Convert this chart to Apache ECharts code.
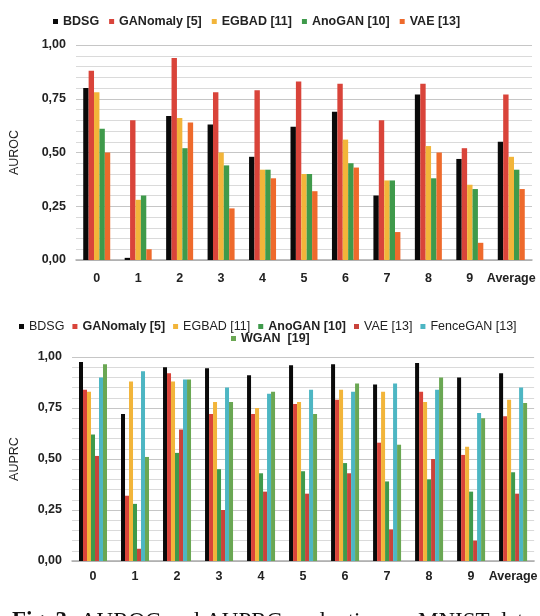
<!DOCTYPE html>
<html>
<head>
<meta charset="utf-8">
<script src="https://cdn.jsdelivr.net/npm/echarts@6/dist/echarts.min.js"></script>
<style>
html,body{margin:0;padding:0;background:#fff;}
#c{width:540px;height:616px;}
</style>
</head>
<body>
<div id="c"></div>
<script>
var categories = ['0','1','2','3','4','5','6','7','8','9','Average'];
var yTicks = ['0,00','0,25','0,50','0,75','1,00'];

// AUROC (top chart)
var rocBDSG     = [0.80, 0.01, 0.67, 0.63, 0.48, 0.62, 0.69, 0.30, 0.77, 0.47, 0.55];
var rocGANomaly = [0.88, 0.65, 0.94, 0.78, 0.79, 0.83, 0.82, 0.65, 0.82, 0.52, 0.77];
var rocEGBAD    = [0.78, 0.28, 0.66, 0.50, 0.42, 0.40, 0.56, 0.37, 0.53, 0.35, 0.48];
var rocAnoGAN   = [0.61, 0.30, 0.52, 0.44, 0.42, 0.40, 0.45, 0.37, 0.38, 0.33, 0.42];
var rocVAE      = [0.50, 0.05, 0.64, 0.24, 0.38, 0.32, 0.43, 0.13, 0.50, 0.08, 0.33];

// AUPRC (bottom chart)
var prcBDSG     = [0.975, 0.72, 0.95, 0.945, 0.91, 0.96, 0.965, 0.865, 0.97, 0.90, 0.92];
var prcGANomaly = [0.84, 0.32, 0.92, 0.72, 0.72, 0.77, 0.79, 0.58, 0.83, 0.52, 0.71];
var prcEGBAD    = [0.83, 0.88, 0.88, 0.78, 0.75, 0.78, 0.84, 0.83, 0.78, 0.56, 0.79];
var prcAnoGAN   = [0.62, 0.28, 0.53, 0.45, 0.43, 0.44, 0.48, 0.39, 0.40, 0.34, 0.435];
var prcVAE      = [0.515, 0.06, 0.645, 0.25, 0.34, 0.33, 0.43, 0.155, 0.50, 0.10, 0.33];
var prcFenceGAN = [0.90, 0.93, 0.89, 0.85, 0.82, 0.84, 0.83, 0.87, 0.84, 0.725, 0.85];
var prcWGAN     = [0.965, 0.51, 0.89, 0.78, 0.83, 0.72, 0.87, 0.57, 0.90, 0.70, 0.775];

var C = {
  black:'#0a0a0a', red:'#d9443a', yellow:'#f2b53a', green:'#3f9a4b',
  orange:'#ee6a2c', red2:'#c9433b', cyan:'#4db6c3', green2:'#6aa753'
};

var chart = echarts.init(document.getElementById('c'), null, {renderer:'canvas'});
var font = 'Liberation Sans, Arial, sans-serif';

function fmt(v){ return yTicks[Math.round(v/0.25)] || ''; }

function yAx(grid, name, gap){
  return {
    type:'value', gridIndex:grid, min:0, max:1, interval:0.25,
    name:name, nameLocation:'middle', nameRotate:90, nameGap:gap,
    nameTextStyle:{fontFamily:font, fontSize:12.5, color:'#222'},
    axisLine:{show:false}, axisTick:{show:false},
    axisLabel:{formatter:fmt, fontFamily:font, fontSize:12.5, fontWeight:'bold', color:'#222', margin:10},
    splitLine:{lineStyle:{color:'#c6c6c6', width:1}},
    minorTick:{show:false, splitNumber:5},
    minorSplitLine:{show:true, lineStyle:{color:'#dadada', width:1}}
  };
}
function xAx(grid, margin){
  return {
    type:'category', gridIndex:grid, data:categories,
    axisLine:{lineStyle:{color:'#aaaaaa', width:1.5}},
    axisTick:{show:false},
    axisLabel:{fontFamily:font, fontSize:12.5, fontWeight:'bold', color:'#222', margin:margin, interval:0}
  };
}
function bar(name, data, color, axis, w){
  return {name:name, type:'bar', xAxisIndex:axis, yAxisIndex:axis, data:data,
    barWidth:w, barGap:'0%', itemStyle:{color:color}, silent:true, animation:false};
}

var legText = {fontFamily:font, fontSize:12.5, color:'#222'};

chart.setOption({
  animation:false,
  backgroundColor:'#fff',
  grid:[
    {left:68, right:8, top:45, height:215},
    {left:63, right:3, top:357, height:204}
  ],
  legend:[
    {top:10, left:48, itemWidth:5, itemHeight:5, itemGap:10, icon:'rect',
     textStyle:Object.assign({}, legText, {fontWeight:'bold'}),
     data:[
       {name:'BDSG', itemStyle:{color:C.black}},
       {name:'GANomaly [5]', itemStyle:{color:C.red}},
       {name:'EGBAD [11]', itemStyle:{color:C.yellow}},
       {name:'AnoGAN [10]', itemStyle:{color:C.green}},
       {name:'VAE [13]', itemStyle:{color:C.orange}}
     ]},
    {top:315, left:14, itemWidth:5, itemHeight:5, itemGap:8, icon:'rect',
     textStyle:legText,
     data:[
       {name:'BDSG', itemStyle:{color:C.black}},
       {name:'GANomaly [5]', itemStyle:{color:C.red}, textStyle:{fontWeight:'bold'}},
       {name:'EGBAD [11]', itemStyle:{color:C.yellow}},
       {name:'AnoGAN [10]', itemStyle:{color:C.green}, textStyle:{fontWeight:'bold'}},
       {name:'VAE [13]', itemStyle:{color:C.red2}},
       {name:'FenceGAN [13]', itemStyle:{color:C.cyan}}
     ]},
    {top:327, left:226, itemWidth:5, itemHeight:5, icon:'rect',
     textStyle:Object.assign({}, legText, {fontWeight:'bold'}),
     data:[{name:'WGAN  [19]', itemStyle:{color:C.green2}}]}
  ],
  xAxis:[xAx(0, 12), xAx(1, 9)],
  yAxis:[yAx(0, 'AUROC', 55), yAx(1, 'AUPRC', 51)],
  series:[
    bar('BDSG', rocBDSG, C.black, 0, 5.4),
    bar('GANomaly [5]', rocGANomaly, C.red, 0, 5.4),
    bar('EGBAD [11]', rocEGBAD, C.yellow, 0, 5.4),
    bar('AnoGAN [10]', rocAnoGAN, C.green, 0, 5.4),
    bar('VAE [13]', rocVAE, C.orange, 0, 5.4),
    bar('BDSG', prcBDSG, C.black, 1, 4),
    bar('GANomaly [5]', prcGANomaly, C.red, 1, 4),
    bar('EGBAD [11]', prcEGBAD, C.yellow, 1, 4),
    bar('AnoGAN [10]', prcAnoGAN, C.green, 1, 4),
    bar('VAE [13]', prcVAE, C.red2, 1, 4),
    bar('FenceGAN [13]', prcFenceGAN, C.cyan, 1, 4),
    bar('WGAN  [19]', prcWGAN, C.green2, 1, 4)
  ],
  graphic:[
    {type:'text', left:12, top:610, silent:true,
     style:{text:'Fig. 3.', font:'bold 23px "Liberation Serif", "Times New Roman", serif', fill:'#111'}},
    {type:'text', left:80, top:610, silent:true,
     style:{text:'AUROC and AUPRC evaluation on MNIST data', font:'23px "Liberation Serif", "Times New Roman", serif', fill:'#111'}}
  ]
});
</script>
</body>
</html>
